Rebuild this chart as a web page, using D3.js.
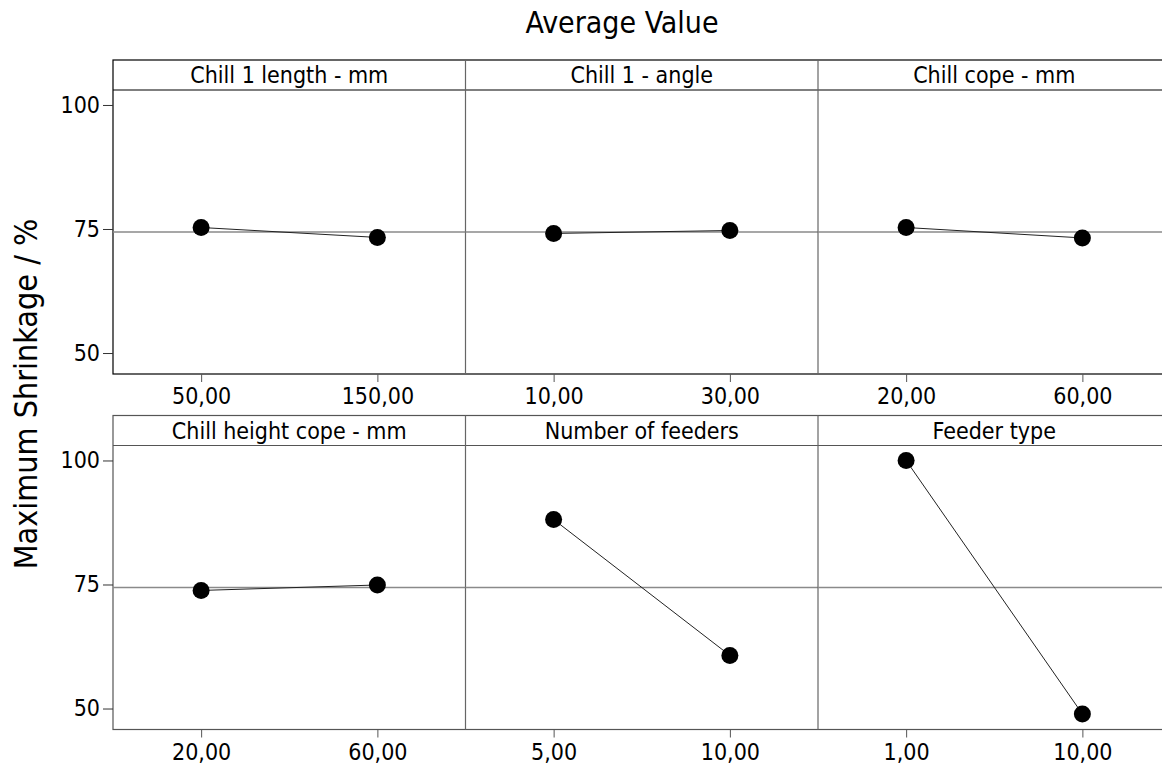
<!DOCTYPE html>
<html>
<head>
<meta charset="utf-8">
<script src="https://cdn.jsdelivr.net/npm/d3@7"></script>
<style>
  body { margin: 0; background: #fff; }
  text { font-family: "DejaVu Sans Condensed", "DejaVu Sans", sans-serif; fill: #000; }
</style>
</head>
<body>
<div id="chart"></div>
<script>
// Chart data
const factors = ["Chill 1 length - mm", "Chill 1 - angle", "Chill cope - mm",
                 "Chill height cope - mm", "Number of feeders", "Feeder type"];
const levels = [["50,00", "150,00"], ["10,00", "30,00"], ["20,00", "60,00"],
                ["20,00", "60,00"], ["5,00", "10,00"], ["1,00", "10,00"]];
const means = [[75.3, 73.3], [74.1, 74.7], [75.3, 73.2],
               [73.8, 74.9], [88.1, 60.7], [100.0, 48.9]];
const grandMean = 74.4;
const yTicks = [50, 75, 100];

// Layout
let width = 1162, height = 769;
let left = 113, panelW = 352.5, headerH = 30, plotH = 284;
let rowTops = [60, 415.5];
let nCols = 3;

let svg = d3.select("#chart")
  .append("svg")
    .attr("width", width)
    .attr("height", height);

// Title and y label
svg.append("text")
  .attr("x", 622).attr("y", 33)
  .attr("text-anchor", "middle")
  .style("font-size", "30px")
  .text("Average Value");

svg.append("text")
  .attr("transform", "translate(37,394) rotate(-90)")
  .attr("text-anchor", "middle")
  .style("font-size", "32px")
  .text("Maximum Shrinkage / %");

let y = d3.scaleLinear()
  .domain([45.77, 103.02])
  .range([plotH, 0]);

let line = d3.line()
  .x(d => d.x)
  .y(d => y(d.v));

rowTops.forEach((top, r) => {
  let row = svg.append("g")
    .attr("transform", "translate(" + left + "," + top + ")");
  let frameColor = r == 0 ? "#000" : "#555";
  let totalW = panelW * nCols + 10;

  // header strip + frame
  row.append("rect")
    .attr("x", 0).attr("y", 0)
    .attr("width", totalW).attr("height", headerH + plotH)
    .attr("fill", "none").attr("stroke", frameColor).attr("stroke-width", 1.2);
  row.append("line")
    .attr("x1", 0).attr("x2", totalW)
    .attr("y1", headerH).attr("y2", headerH)
    .attr("stroke", frameColor).attr("stroke-width", 1.2);

  // y axis
  let yAxis = row.append("g")
    .attr("transform", "translate(0," + headerH + ")")
    .call(d3.axisLeft(y).tickValues(yTicks).tickSize(10).tickPadding(3));
  yAxis.select(".domain").remove();
  yAxis.selectAll("line").attr("stroke", "#333");
  yAxis.selectAll("text").style("font-size", "23px").attr("font-family", null);

  for (let c = 0; c < nCols; c++) {
    let i = r * nCols + c;
    let g = row.append("g")
      .attr("transform", "translate(" + (c * panelW) + ",0)");

    if (c > 0) {
      g.append("line")
        .attr("x1", 0).attr("x2", 0)
        .attr("y1", 0).attr("y2", headerH + plotH)
        .attr("stroke", "#666").attr("stroke-width", 1.2);
    }

    g.append("text")
      .attr("x", panelW / 2).attr("y", headerH - 7)
      .attr("text-anchor", "middle")
      .style("font-size", "23px")
      .text(factors[i]);

    let x = d3.scalePoint()
      .domain(levels[i])
      .range([0, panelW])
      .padding(0.5);

    let plot = g.append("g")
      .attr("transform", "translate(0," + headerH + ")");

    // grand mean reference
    plot.append("line")
      .attr("x1", 0).attr("x2", panelW)
      .attr("y1", y(grandMean)).attr("y2", y(grandMean))
      .attr("stroke", "#8a8a8a").attr("stroke-width", 1.5);

    let xAxis = plot.append("g")
      .attr("transform", "translate(0," + plotH + ")")
      .call(d3.axisBottom(x).tickSize(8).tickPadding(6));
    xAxis.select(".domain").remove();
    xAxis.selectAll("line").attr("stroke", "#555");
    xAxis.selectAll("text").style("font-size", "23px").attr("font-family", null);

    let pts = levels[i].map((l, j) => ({x: x(l), v: means[i][j]}));
    plot.append("path")
      .datum(pts)
      .attr("d", line)
      .attr("fill", "none")
      .attr("stroke", "#222")
      .attr("stroke-width", 1);

    plot.selectAll(".point")
      .data(pts)
      .enter()
      .append("circle")
        .attr("class", "point")
        .attr("cx", d => d.x)
        .attr("cy", d => y(d.v))
        .attr("r", 8.5)
        .attr("fill", "#000");
  }
});
</script>
</body>
</html>
